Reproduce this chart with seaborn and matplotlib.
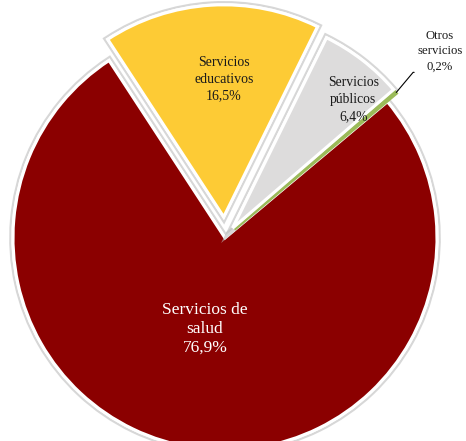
import numpy as np
import matplotlib
matplotlib.use("Agg")
import matplotlib.pyplot as plt
import matplotlib.patheffects as pe
import seaborn as sns

sns.set_theme(style="white")
plt.rcParams['font.family'] = ['Liberation Serif', 'DejaVu Serif']

# data
sectores = ["Servicios de\nsalud", "Servicios\neducativos", "Servicios\npúblicos", "Otros\nservicios"]
porcentajes = [76.9, 16.5, 6.4, 0.2]
etiquetas_pct = ["76,9%", "16,5%", "6,4%", "0,2%"]
colores = ["#8b0000", "#fdcb35", "#dddcdc", "#9bbb59"]

fig = plt.figure(figsize=(4.66, 4.41), dpi=100)
ax = fig.add_axes([0, 0, 1, 1])

wedges, _ = ax.pie(porcentajes, colors=colores, startangle=40, counterclock=False,
                   explode=[0.0, 0.1, 0.06, 0.06], radius=1.0,
                   wedgeprops=dict(edgecolor="white", linewidth=2.2))
for w in wedges[:3]:
    w.set_path_effects([pe.Stroke(linewidth=5.5, foreground="#bdbdbd", alpha=0.6),
                        pe.Stroke(linewidth=2.4, foreground="white"),
                        pe.Normal()])
# tiny slice: keep its own colour visible as a thin line
wedges[3].set_edgecolor(colores[3])
wedges[3].set_linewidth(1.4)

# labels inside the slices, placed near each wedge bisector
dist = [0.44, 0.65, 0.83]
giro = [-4.0, -3.5, -5.5]
tamanos = [12.5, 10, 9.8]
espacios = [1.25, 1.4, 1.4]
txt_col = ["white", "#1a1a1a", "#1a1a1a"]
for i in range(3):
    w = wedges[i]
    ang = np.deg2rad((w.theta1 + w.theta2) / 2 + giro[i])
    cx, cy = w.center
    x = cx + dist[i] * w.r * np.cos(ang)
    y = cy + dist[i] * w.r * np.sin(ang)
    ax.text(x, y, sectores[i] + "\n" + etiquetas_pct[i], ha="center", va="center",
            color=txt_col[i], fontsize=tamanos[i], linespacing=espacios[i])

# small slice: label outside with leader line
w = wedges[3]
ang = np.deg2rad((w.theta1 + w.theta2) / 2)
cx, cy = w.center
px, py = cx + w.r * np.cos(ang), cy + w.r * np.sin(ang)
ax.annotate(sectores[3] + "\n" + etiquetas_pct[3], xy=(px, py),
            xytext=(px + 0.1, py + 0.095), ha="left", va="bottom",
            fontsize=9.2, color="#1a1a1a", linespacing=1.35, multialignment="center",
            arrowprops=dict(arrowstyle="-", color="black", lw=0.8, shrinkA=0, shrinkB=0,
                            relpos=(0, 0), connectionstyle="angle,angleA=0,angleB=50,rad=0"))

ax.set_xlim(-225 / 212, (466 - 225) / 212)
ax.set_ylim(-(441 - 238) / 212, 238 / 212)
ax.set_aspect("auto")
ax.axis("off")

fig.savefig("out.png", dpi=100)
